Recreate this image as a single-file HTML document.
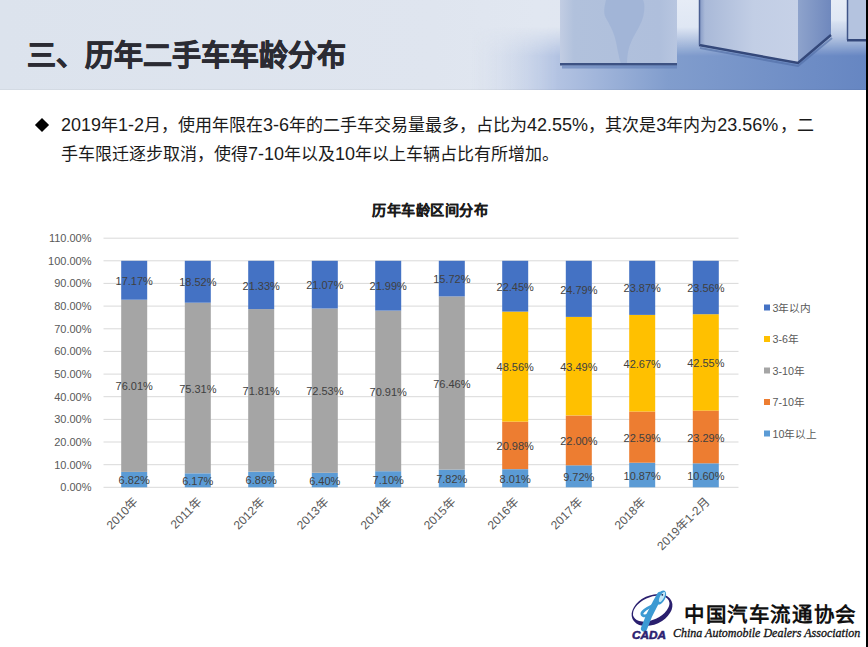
<!DOCTYPE html>
<html lang="zh-CN"><head><meta charset="utf-8">
<style>
html,body{margin:0;padding:0;}
body{width:868px;height:647px;position:relative;overflow:hidden;background:#fff;font-family:"Liberation Sans",sans-serif;}
#hdr{position:absolute;left:0;top:0;width:866px;height:90px;overflow:hidden;}
#title{position:absolute;left:27px;top:32px;font-size:29px;font-weight:bold;color:#2b2b33;-webkit-text-stroke:0.7px #2b2b33;letter-spacing:0px;white-space:nowrap;}
#rb{position:absolute;left:866px;top:0;width:2px;height:647px;background:#000;}
.n{font-size:18px;}
.txt{position:absolute;left:61px;font-size:17px;line-height:25px;color:#1a1a1a;white-space:nowrap;}
#dia{position:absolute;left:37.2px;top:120.4px;width:10px;height:10px;background:#000;transform:rotate(45deg);}
svg{position:absolute;left:0;top:0;}
#lgcn{position:absolute;left:684px;top:599.5px;font-family:"Liberation Serif",serif;font-weight:900;font-size:20.5px;line-height:30px;color:#111;white-space:nowrap;letter-spacing:1.6px;}
#lgen{position:absolute;left:673px;top:626px;font-family:"Liberation Serif",serif;font-style:italic;font-weight:normal;font-size:12px;line-height:14px;color:#111;-webkit-text-stroke:0.3px #111;white-space:nowrap;letter-spacing:0px;}
.ax{font-size:11px;fill:#595959;font-family:"Liberation Sans",sans-serif;}
.xl{font-size:12px;fill:#595959;font-family:"Liberation Sans",sans-serif;}
.dl{font-size:11px;fill:#404040;font-family:"Liberation Sans",sans-serif;}
.lg{font-size:10.7px;fill:#595959;font-family:"Liberation Sans",sans-serif;}
.tt{letter-spacing:0.5px;font-size:14.2px;font-weight:bold;fill:#1a1a1a;stroke:#1a1a1a;stroke-width:0.15px;font-family:"Liberation Sans",sans-serif;}
</style></head><body>
<div id="hdr"><svg id="hsvg" width="866" height="90" viewBox="0 0 866 90" style="position:absolute;left:0;top:0">
<defs>
<linearGradient id="bg" x1="0" y1="0" x2="1" y2="0">
<stop offset="0" stop-color="#dce3ed"/><stop offset="0.5" stop-color="#dfe5ef"/><stop offset="0.62" stop-color="#e1e7f1"/><stop offset="1" stop-color="#dde5f2"/>
</linearGradient>
<linearGradient id="floor" x1="0" y1="0" x2="1" y2="0">
<stop offset="0" stop-color="#d3dcec" stop-opacity="0"/><stop offset="0.22" stop-color="#b3c3e2"/><stop offset="0.5" stop-color="#819dcd"/><stop offset="1" stop-color="#6686c2"/>
</linearGradient>
<linearGradient id="c1" x1="0" y1="0" x2="1" y2="0">
<stop offset="0" stop-color="#c2cde3"/><stop offset="0.12" stop-color="#b1c1dc"/><stop offset="0.85" stop-color="#afbfdc"/><stop offset="1" stop-color="#b8c6e0"/>
</linearGradient>
<linearGradient id="c2" x1="0" y1="0" x2="1" y2="0">
<stop offset="0" stop-color="#8196c3"/><stop offset="0.06" stop-color="#a9b9d8"/><stop offset="0.55" stop-color="#c2cee5"/><stop offset="1" stop-color="#c6d1e7"/>
</linearGradient>
<linearGradient id="c2r" x1="0" y1="0" x2="1" y2="0">
<stop offset="0" stop-color="#8ea3cc"/><stop offset="1" stop-color="#6f88bd"/>
</linearGradient>
<linearGradient id="gap" x1="0" y1="0" x2="0" y2="1">
<stop offset="0" stop-color="#e6ecf6"/><stop offset="0.45" stop-color="#dfe7f4"/><stop offset="0.8" stop-color="#9db2da" stop-opacity="0"/>
</linearGradient>
<linearGradient id="fmg" x1="0" y1="0" x2="0" y2="1">
<stop offset="0" stop-color="#000"/><stop offset="0.3" stop-color="#000"/><stop offset="0.62" stop-color="#fff"/><stop offset="1" stop-color="#fff"/>
</linearGradient>
<mask id="fm" maskUnits="userSpaceOnUse" x="0" y="0" width="866" height="90"><rect x="0" y="0" width="866" height="90" fill="url(#fmg)"/></mask>
</defs>
<rect x="0" y="0" width="866" height="90" fill="url(#bg)"/>
<rect x="470" y="0" width="396" height="90" fill="url(#floor)" mask="url(#fm)"/>
<rect x="677" y="0" width="22" height="60" fill="url(#gap)"/>
<rect x="831" y="0" width="16" height="45" fill="url(#gap)"/>
<rect x="0" y="89" width="866" height="1" fill="#000" opacity="0.04"/>
<!-- cube1 -->
<rect x="560" y="0" width="117" height="64" fill="url(#c1)"/>
<path d="M606,0 C604,8 603,14 607,20 C611,27 614,33 616,42 C618,52 619,58 621,64 L627,64 C627,56 628,48 632,40 C637,30 643,22 644,12 C645,6 644,2 643,0 Z" fill="#9db1d5" opacity="0.75"/>
<rect x="560" y="63" width="117" height="2.5" fill="#3d5283"/>
<rect x="562" y="65.5" width="115" height="3" fill="#5f7db6" opacity="0.6"/>
<!-- cube2 -->
<polygon points="699,0 798,0 798,63 699,45" fill="url(#c2)"/>
<polygon points="798,0 831,0 831,35 798,63" fill="url(#c2r)"/>
<polyline points="699,45 798,63 831,35" fill="none" stroke="#34487a" stroke-width="2.5"/>
<polyline points="700,48 798,66 832,38" fill="none" stroke="#4f6aa3" stroke-width="2" opacity="0.6"/>
<line x1="699.5" y1="0" x2="699.5" y2="45" stroke="#4a5f92" stroke-width="1.5"/>
<!-- cube3 -->
<rect x="847" y="0" width="19" height="40" fill="#b4c3df"/>
<line x1="847.5" y1="0" x2="847.5" y2="40" stroke="#3f5488" stroke-width="1.5"/>
<rect x="847" y="39" width="19" height="2.5" fill="#34487a"/>
</svg><div id="title">三、历年二手车车龄分布</div></div>
<div id="rb"></div>
<svg width="60" height="60" viewBox="620 585 60 60" style="position:absolute;left:620px;top:585px">
<ellipse cx="652" cy="610" rx="21.5" ry="14.5" transform="rotate(-25 652 610)" fill="#2a1f6e"/>
<ellipse cx="651.2" cy="608.6" rx="19.4" ry="11.2" transform="rotate(-25 651.2 608.6)" fill="#fff"/>
<path d="M644,628.5 C647,620 651,611 655,604 C657,600 659,597 660,595" fill="none" stroke="#3c9ad3" stroke-width="6.2" stroke-linecap="round"/>
<ellipse cx="661" cy="597.5" rx="4.2" ry="7.6" transform="rotate(28 661 597.5)" fill="#3c9ad3"/>
<ellipse cx="662" cy="597" rx="2" ry="5.6" transform="rotate(28 662 597)" fill="#c3e8f8"/>
<path d="M656,604 C650,607 644,609 642,613 C641,616 645,617 649,614" fill="none" stroke="#3c9ad3" stroke-width="2.8" stroke-linecap="round"/>
<circle cx="662.3" cy="594.8" r="0.9" fill="#1a2a5a"/>
<text x="632" y="639" font-family="Liberation Sans" font-weight="bold" font-style="italic" font-size="10" fill="#2b2170" textLength="34" stroke="#2b2170" stroke-width="0.5" lengthAdjust="spacingAndGlyphs">CADA</text>
</svg>
<div id="lgcn">中国汽车流通协会</div>
<div id="lgen">China Automobile Dealers Association</div>
<div id="dia"></div>
<div class="txt" style="top:113px"><span class="n">2019</span>年<span class="n">1-2</span>月，使用年限在<span class="n">3-6</span>年的二手车交易量最多，占比为<span class="n">42.55%</span>，其次是<span class="n">3</span>年内为<span class="n">23.56%</span><span style="margin-left:-2.5px"> </span>，二</div>
<div class="txt" style="top:142px">手车限迁逐步取消，使得<span class="n">7-10</span>年以及<span class="n">10</span>年以上车辆占比有所增加。</div>
<svg width="868" height="647" viewBox="0 0 868 647">
<line x1="103.5" y1="487.3" x2="738.5" y2="487.3" stroke="#D9D9D9" stroke-width="1"/>
<text x="91.5" y="491.3" text-anchor="end" class="ax">0.00%</text>
<line x1="103.5" y1="464.7" x2="738.5" y2="464.7" stroke="#D9D9D9" stroke-width="1"/>
<text x="91.5" y="468.7" text-anchor="end" class="ax">10.00%</text>
<line x1="103.5" y1="442.0" x2="738.5" y2="442.0" stroke="#D9D9D9" stroke-width="1"/>
<text x="91.5" y="446.0" text-anchor="end" class="ax">20.00%</text>
<line x1="103.5" y1="419.4" x2="738.5" y2="419.4" stroke="#D9D9D9" stroke-width="1"/>
<text x="91.5" y="423.4" text-anchor="end" class="ax">30.00%</text>
<line x1="103.5" y1="396.7" x2="738.5" y2="396.7" stroke="#D9D9D9" stroke-width="1"/>
<text x="91.5" y="400.7" text-anchor="end" class="ax">40.00%</text>
<line x1="103.5" y1="374.1" x2="738.5" y2="374.1" stroke="#D9D9D9" stroke-width="1"/>
<text x="91.5" y="378.1" text-anchor="end" class="ax">50.00%</text>
<line x1="103.5" y1="351.4" x2="738.5" y2="351.4" stroke="#D9D9D9" stroke-width="1"/>
<text x="91.5" y="355.4" text-anchor="end" class="ax">60.00%</text>
<line x1="103.5" y1="328.8" x2="738.5" y2="328.8" stroke="#D9D9D9" stroke-width="1"/>
<text x="91.5" y="332.8" text-anchor="end" class="ax">70.00%</text>
<line x1="103.5" y1="306.1" x2="738.5" y2="306.1" stroke="#D9D9D9" stroke-width="1"/>
<text x="91.5" y="310.1" text-anchor="end" class="ax">80.00%</text>
<line x1="103.5" y1="283.4" x2="738.5" y2="283.4" stroke="#D9D9D9" stroke-width="1"/>
<text x="91.5" y="287.4" text-anchor="end" class="ax">90.00%</text>
<line x1="103.5" y1="260.8" x2="738.5" y2="260.8" stroke="#D9D9D9" stroke-width="1"/>
<text x="91.5" y="264.8" text-anchor="end" class="ax">100.00%</text>
<line x1="103.5" y1="238.2" x2="738.5" y2="238.2" stroke="#D9D9D9" stroke-width="1"/>
<text x="91.5" y="242.2" text-anchor="end" class="ax">110.00%</text>
<rect x="121.2" y="471.9" width="26" height="15.4" fill="#5B9BD5"/>
<rect x="121.2" y="299.7" width="26" height="172.2" fill="#A5A5A5"/>
<rect x="121.2" y="260.8" width="26" height="38.9" fill="#4472C4"/>
<text x="134.2" y="484.2" text-anchor="middle" class="dl">6.82%</text>
<text x="134.2" y="390.4" text-anchor="middle" class="dl">76.01%</text>
<text x="134.2" y="284.8" text-anchor="middle" class="dl">17.17%</text>
<text transform="translate(138.8,502.8) rotate(-45)" text-anchor="end" class="xl">2010年</text>
<rect x="184.8" y="473.3" width="26" height="14.0" fill="#5B9BD5"/>
<rect x="184.8" y="302.7" width="26" height="170.6" fill="#A5A5A5"/>
<rect x="184.8" y="260.8" width="26" height="41.9" fill="#4472C4"/>
<text x="197.8" y="484.9" text-anchor="middle" class="dl">6.17%</text>
<text x="197.8" y="392.6" text-anchor="middle" class="dl">75.31%</text>
<text x="197.8" y="286.4" text-anchor="middle" class="dl">18.52%</text>
<text transform="translate(202.2,502.8) rotate(-45)" text-anchor="end" class="xl">2011年</text>
<rect x="248.2" y="471.8" width="26" height="15.5" fill="#5B9BD5"/>
<rect x="248.2" y="309.1" width="26" height="162.6" fill="#A5A5A5"/>
<rect x="248.2" y="260.8" width="26" height="48.3" fill="#4472C4"/>
<text x="261.2" y="484.1" text-anchor="middle" class="dl">6.86%</text>
<text x="261.2" y="395.0" text-anchor="middle" class="dl">71.81%</text>
<text x="261.2" y="289.6" text-anchor="middle" class="dl">21.33%</text>
<text transform="translate(265.8,502.8) rotate(-45)" text-anchor="end" class="xl">2012年</text>
<rect x="311.8" y="472.8" width="26" height="14.5" fill="#5B9BD5"/>
<rect x="311.8" y="308.5" width="26" height="164.3" fill="#A5A5A5"/>
<rect x="311.8" y="260.8" width="26" height="47.7" fill="#4472C4"/>
<text x="324.8" y="484.7" text-anchor="middle" class="dl">6.40%</text>
<text x="324.8" y="395.3" text-anchor="middle" class="dl">72.53%</text>
<text x="324.8" y="289.3" text-anchor="middle" class="dl">21.07%</text>
<text transform="translate(329.2,502.8) rotate(-45)" text-anchor="end" class="xl">2013年</text>
<rect x="375.2" y="471.2" width="26" height="16.1" fill="#5B9BD5"/>
<rect x="375.2" y="310.6" width="26" height="160.6" fill="#A5A5A5"/>
<rect x="375.2" y="260.8" width="26" height="49.8" fill="#4472C4"/>
<text x="388.2" y="483.9" text-anchor="middle" class="dl">7.10%</text>
<text x="388.2" y="395.5" text-anchor="middle" class="dl">70.91%</text>
<text x="388.2" y="290.3" text-anchor="middle" class="dl">21.99%</text>
<text transform="translate(392.8,502.8) rotate(-45)" text-anchor="end" class="xl">2014年</text>
<rect x="438.8" y="469.6" width="26" height="17.7" fill="#5B9BD5"/>
<rect x="438.8" y="296.4" width="26" height="173.2" fill="#A5A5A5"/>
<rect x="438.8" y="260.8" width="26" height="35.6" fill="#4472C4"/>
<text x="451.8" y="483.0" text-anchor="middle" class="dl">7.82%</text>
<text x="451.8" y="387.6" text-anchor="middle" class="dl">76.46%</text>
<text x="451.8" y="283.2" text-anchor="middle" class="dl">15.72%</text>
<text transform="translate(456.2,502.8) rotate(-45)" text-anchor="end" class="xl">2015年</text>
<rect x="502.2" y="469.2" width="26" height="18.1" fill="#5B9BD5"/>
<rect x="502.2" y="421.6" width="26" height="47.5" fill="#ED7D31"/>
<rect x="502.2" y="311.6" width="26" height="110.0" fill="#FFC000"/>
<rect x="502.2" y="260.8" width="26" height="50.8" fill="#4472C4"/>
<text x="515.2" y="482.8" text-anchor="middle" class="dl">8.01%</text>
<text x="515.2" y="450.0" text-anchor="middle" class="dl">20.98%</text>
<text x="515.2" y="371.2" text-anchor="middle" class="dl">48.56%</text>
<text x="515.2" y="290.8" text-anchor="middle" class="dl">22.45%</text>
<text transform="translate(519.8,502.8) rotate(-45)" text-anchor="end" class="xl">2016年</text>
<rect x="565.8" y="465.3" width="26" height="22.0" fill="#5B9BD5"/>
<rect x="565.8" y="415.5" width="26" height="49.8" fill="#ED7D31"/>
<rect x="565.8" y="316.9" width="26" height="98.5" fill="#FFC000"/>
<rect x="565.8" y="260.8" width="26" height="56.1" fill="#4472C4"/>
<text x="578.8" y="480.9" text-anchor="middle" class="dl">9.72%</text>
<text x="578.8" y="445.0" text-anchor="middle" class="dl">22.00%</text>
<text x="578.8" y="370.8" text-anchor="middle" class="dl">43.49%</text>
<text x="578.8" y="293.5" text-anchor="middle" class="dl">24.79%</text>
<text transform="translate(583.2,502.8) rotate(-45)" text-anchor="end" class="xl">2017年</text>
<rect x="629.2" y="462.7" width="26" height="24.6" fill="#5B9BD5"/>
<rect x="629.2" y="411.5" width="26" height="51.2" fill="#ED7D31"/>
<rect x="629.2" y="314.9" width="26" height="96.6" fill="#FFC000"/>
<rect x="629.2" y="260.8" width="26" height="54.1" fill="#4472C4"/>
<text x="642.2" y="479.6" text-anchor="middle" class="dl">10.87%</text>
<text x="642.2" y="441.7" text-anchor="middle" class="dl">22.59%</text>
<text x="642.2" y="367.8" text-anchor="middle" class="dl">42.67%</text>
<text x="642.2" y="292.4" text-anchor="middle" class="dl">23.87%</text>
<text transform="translate(646.8,502.8) rotate(-45)" text-anchor="end" class="xl">2018年</text>
<rect x="692.8" y="463.3" width="26" height="24.0" fill="#5B9BD5"/>
<rect x="692.8" y="410.5" width="26" height="52.8" fill="#ED7D31"/>
<rect x="692.8" y="314.2" width="26" height="96.4" fill="#FFC000"/>
<rect x="692.8" y="260.8" width="26" height="53.4" fill="#4472C4"/>
<text x="705.8" y="479.9" text-anchor="middle" class="dl">10.60%</text>
<text x="705.8" y="441.5" text-anchor="middle" class="dl">23.29%</text>
<text x="705.8" y="367.0" text-anchor="middle" class="dl">42.55%</text>
<text x="705.8" y="292.1" text-anchor="middle" class="dl">23.56%</text>
<text transform="translate(710.2,502.8) rotate(-45)" text-anchor="end" class="xl">2019年1-2月</text>
<rect x="764" y="304.5" width="6" height="6" fill="#4472C4"/>
<text x="772.5" y="311.5" class="lg">3年以内</text>
<rect x="764" y="336.0" width="6" height="6" fill="#FFC000"/>
<text x="772.5" y="343.0" class="lg">3-6年</text>
<rect x="764" y="367.5" width="6" height="6" fill="#A5A5A5"/>
<text x="772.5" y="374.5" class="lg">3-10年</text>
<rect x="764" y="399.0" width="6" height="6" fill="#ED7D31"/>
<text x="772.5" y="406.0" class="lg">7-10年</text>
<rect x="764" y="430.5" width="6" height="6" fill="#5B9BD5"/>
<text x="772.5" y="437.5" class="lg">10年以上</text>
<text x="430" y="214.8" text-anchor="middle" class="tt">历年车龄区间分布</text>
</svg>
</body></html>
